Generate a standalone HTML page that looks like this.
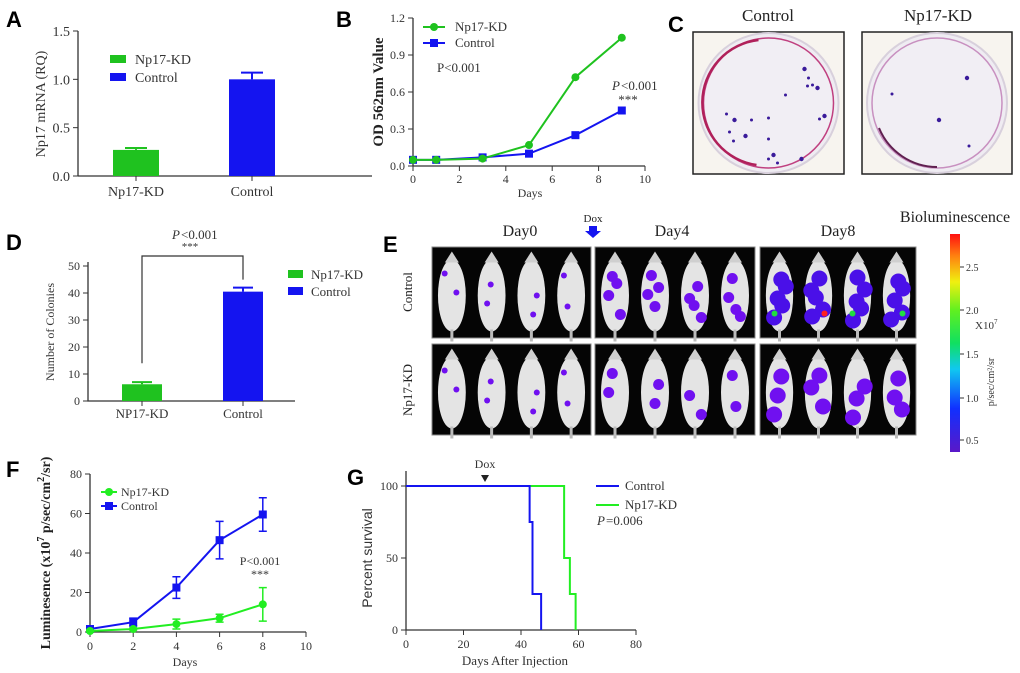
<!DOCTYPE html>
<html><head><meta charset="utf-8"><style>
body{margin:0;background:#fff;}
svg{display:block;font-family:"Liberation Serif",serif;}
.lbl{font-family:"Liberation Sans",sans-serif;font-weight:bold;font-size:22px;}
</style></head><body>
<svg id="fig" width="1020" height="673" viewBox="0 0 1020 673" xmlns="http://www.w3.org/2000/svg">
<text class="lbl" x="6" y="27">A</text>
<text class="lbl" x="336" y="27">B</text>
<text class="lbl" x="668" y="32">C</text>
<text class="lbl" x="6" y="250">D</text>
<text class="lbl" x="383" y="252">E</text>
<text class="lbl" x="6" y="477">F</text>
<text class="lbl" x="347" y="485">G</text>
<g id="gA"></g>
<g id="gB"></g>
<g id="gC"></g>
<g id="gD"></g>
<g id="gE"></g>
<g id="gF"></g>
<g id="gG"></g>
</svg>
<script>
// ---- data ----
const aCategories = ["Np17-KD","Control"];
const aValues = [0.27,1.0];
const aErrors = [0.02,0.07];
const aTicks = ["0.0","0.5","1.0","1.5"];

const bDays = [0,1,3,5,7,9];
const bKD = [0.05,0.05,0.06,0.17,0.72,1.04];
const bCtrl = [0.05,0.05,0.07,0.10,0.25,0.45];
const bYTicks = ["0.0","0.3","0.6","0.9","1.2"];
const bXTicks = ["0","2","4","6","8","10"];

const dCategories = ["NP17-KD","Control"];
const dValues = [6.2,40.5];
const dErrors = [0.8,1.5];
const dTicks = ["0","10","20","30","40","50"];

const fDays = [0,2,4,6,8];
const fCtrl = [1.5,5,22.5,46.5,59.5];
const fCtrlErr = [1.5,2,5.5,9.5,8.5];
const fKD = [0.5,1.5,4,7,14];
const fKDErr = [0.5,0.5,2.5,2,8.5];
const fYTicks = ["0","20","40","60","80"];
const fXTicks = ["0","2","4","6","8","10"];

const gCtrlT = [0,43,44,47];
const gCtrlS = [100,75,25,0];
const gKDT = [0,55,57,59];
const gKDS = [100,50,25,0];
const gYTicks = ["0","50","100"];
const gXTicks = ["0","20","40","60","80"];

const NS="http://www.w3.org/2000/svg";
function el(p,tag,at,txt){const e=document.createElementNS(NS,tag);for(const k in at)e.setAttribute(k,at[k]);if(txt!==undefined)e.textContent=txt;p.appendChild(e);return e;}
function lin(d0,d1,r0,r1){return v=>r0+(v-d0)*(r1-r0)/(d1-d0);}
const GREEN="#1fc21f",BLUE="#1414f0",LG="#22ee22";

// ---- Panel A ----
(function(){
 const g=document.getElementById('gA');
 const y=lin(0,1.5,176,31);
 let e=el(g,'line',{x1:78,y1:31,x2:78,y2:176,stroke:'#333','stroke-width':1.3});
 
 e=el(g,'line',{x1:78,y1:176,x2:372,y2:176,stroke:'#333','stroke-width':1.3});
 
 aTicks.forEach(t=>{const yy=y(+t);el(g,'line',{x1:73,y1:yy,x2:78,y2:yy,stroke:'#333'});
  e=el(g,'text',{x:70,y:yy+5,'text-anchor':'end','font-size':14,fill:'#333'},t);
  });
 const xs=[136,252],cols=[GREEN,BLUE];
 aCategories.forEach((c,i)=>{
  e=el(g,'rect',{x:xs[i]-23,y:y(aValues[i]),width:46,height:176-y(aValues[i]),fill:cols[i]});
  
  const ye=y(aValues[i]+aErrors[i]);
  el(g,'line',{x1:xs[i],y1:y(aValues[i]),x2:xs[i],y2:ye,stroke:cols[i],'stroke-width':2});
  el(g,'line',{x1:xs[i]-11,y1:ye,x2:xs[i]+11,y2:ye,stroke:cols[i],'stroke-width':2});
  el(g,'line',{x1:xs[i],y1:176,x2:xs[i],y2:181,stroke:'#333'});
  e=el(g,'text',{x:xs[i],y:196,'text-anchor':'middle','font-size':14,fill:'#333'},c);
  
 });
 e=el(g,'text',{x:45,y:104,'text-anchor':'middle','font-size':14,fill:'#333',transform:'rotate(-90 45 104)'},'Np17 mRNA (RQ)');
 
 [[GREEN,'Np17-KD',59],[BLUE,'Control',77]].forEach(l=>{
  el(g,'rect',{x:110,y:l[2]-4,width:16,height:8,fill:l[0]});
  e=el(g,'text',{x:135,y:l[2]+5,'font-size':14,fill:'#333'},l[1]);
  });
})();

// ---- Panel B ----
(function(){
 const g=document.getElementById('gB');
 const x=lin(0,10,413,645),y=lin(0,1.2,166,18);
 let e=el(g,'path',{d:'M413 18V166H645',fill:'none',stroke:'#333','stroke-width':1.3});
 
 bYTicks.forEach(t=>{const yy=y(+t);el(g,'line',{x1:408,y1:yy,x2:413,y2:yy,stroke:'#333'});
  e=el(g,'text',{x:405,y:yy+4,'text-anchor':'end','font-size':12,fill:'#333'},t);
  });
 bXTicks.forEach(t=>{const xx=x(+t);el(g,'line',{x1:xx,y1:166,x2:xx,y2:171,stroke:'#333'});
  e=el(g,'text',{x:xx,y:183,'text-anchor':'middle','font-size':12,fill:'#333'},t);
  });
 e=el(g,'text',{x:530,y:197,'text-anchor':'middle','font-size':12,fill:'#333'},'Days');
 
 e=el(g,'text',{x:383,y:92,'text-anchor':'middle','font-size':15,'font-weight':'bold',fill:'#222',transform:'rotate(-90 383 92)'},'OD 562nm  Value');
 
 [[bCtrl,BLUE,'sq'],[bKD,GREEN,'ci']].forEach((s,si)=>{
  e=el(g,'polyline',{points:bDays.map((d,i)=>x(d)+','+y(s[0][i])).join(' '),fill:'none',stroke:s[1],'stroke-width':2});
  
  bDays.forEach((d,i)=>{if(s[2]=='sq')el(g,'rect',{x:x(d)-4,y:y(s[0][i])-4,width:8,height:8,fill:s[1]});
   else el(g,'circle',{cx:x(d),cy:y(s[0][i]),r:4,fill:s[1]});});
 });
 el(g,'line',{x1:423,y1:27,x2:445,y2:27,stroke:GREEN,'stroke-width':2});el(g,'circle',{cx:434,cy:27,r:4,fill:GREEN});
 e=el(g,'text',{x:455,y:31,'font-size':13,fill:'#333'},'Np17-KD');
 el(g,'line',{x1:423,y1:43,x2:445,y2:43,stroke:BLUE,'stroke-width':2});el(g,'rect',{x:430,y:39,width:8,height:8,fill:BLUE});
 e=el(g,'text',{x:455,y:47,'font-size':13,fill:'#333'},'Control');
 el(g,'text',{x:437,y:72,'font-size':13,fill:'#333'},'P<0.001');
 el(g,'text',{x:612,y:90,'font-size':13,fill:'#333','font-style':'italic'},'P');
 el(g,'text',{x:621,y:90,'font-size':13,fill:'#333'},'<0.001');
 el(g,'text',{x:628,y:104,'font-size':13,'text-anchor':'middle',fill:'#333'},'***');
})();

// ---- Panel C ----
(function(){
 const g=document.getElementById('gC');
 const plates=[[693,844,'Control',768],[862,1012,'Np17-KD',938]];
 const ctrlCol=[[36,-34],[44,-18],[39,-17],[49,-15],[-42,11],[17,-8],[-34,17],[-17,17],[0,15],[56,13],[51,16],[0,36],[5,52],[0,56],[9,60],[33,56],[-39,29],[-35,38],[-23,33],[40,-25]];
 const kdCol=[[2,17],[32,43],[-45,-9],[30,-25]];
 plates.forEach((p,pi)=>{
  let e=el(g,'text',{x:p[3],y:21,'text-anchor':'middle','font-size':17,fill:'#222'},p[2]);
  
  e=el(g,'rect',{x:p[0],y:32,width:p[1]-p[0],height:142,fill:'#f7f4ef',stroke:'#222','stroke-width':1.5});
  
  const cx=(p[0]+p[1])/2;
  el(g,'circle',{cx:cx,cy:103,r:70,fill:'#efecf2',stroke:'#d8d0dc','stroke-width':2});
  el(g,'circle',{cx:cx,cy:103,r:65,fill:'#f1eef4',stroke:pi?'#c890c0':'#c04080','stroke-width':1.5});
  if(!pi)el(g,'path',{d:`M${cx-10} ${103-63}A63 63 0 0 0 ${cx-12} ${103+62}`,fill:'none',stroke:'#b0205a','stroke-width':2.5});
  else el(g,'path',{d:`M${cx-58} ${103+25}A63 63 0 0 0 ${cx} ${103+64}`,fill:'none',stroke:'#602050','stroke-width':2});
  (pi?kdCol:ctrlCol).forEach((q,i)=>el(g,'circle',{cx:cx+q[0],cy:103+q[1],r:i%3==0?2.2:1.5,fill:'#3a1a9a'}));
 });
})();

// ---- Panel D ----
(function(){
 const g=document.getElementById('gD');
 const y=lin(0,50,401,266);
 let e=el(g,'path',{d:'M88 262V401H295',fill:'none',stroke:'#333','stroke-width':1.3});
 
 dTicks.forEach(t=>{const yy=y(+t);el(g,'line',{x1:83,y1:yy,x2:88,y2:yy,stroke:'#333'});
  e=el(g,'text',{x:80,y:yy+4,'text-anchor':'end','font-size':12,fill:'#333'},t);
  });
 const xs=[142,243],cols=[GREEN,BLUE];
 dCategories.forEach((c,i)=>{
  e=el(g,'rect',{x:xs[i]-20,y:y(dValues[i]),width:40,height:401-y(dValues[i]),fill:cols[i]});
  
  const ye=y(dValues[i]+dErrors[i]);
  el(g,'line',{x1:xs[i],y1:y(dValues[i]),x2:xs[i],y2:ye,stroke:cols[i],'stroke-width':2});
  el(g,'line',{x1:xs[i]-10,y1:ye,x2:xs[i]+10,y2:ye,stroke:cols[i],'stroke-width':2});
  el(g,'line',{x1:xs[i],y1:401,x2:xs[i],y2:406,stroke:'#333'});
  e=el(g,'text',{x:xs[i],y:418,'text-anchor':'middle','font-size':13,fill:'#333'},c);
  
 });
 el(g,'path',{d:`M142 ${y(dValues[0])-21}V256H243V${y(dValues[1])-12}`,fill:'none',stroke:'#333','stroke-width':1.2});
 el(g,'text',{x:172,y:239,'font-size':13,fill:'#333','font-style':'italic'},'P');
 el(g,'text',{x:181,y:239,'font-size':13,fill:'#333'},'<0.001');
 el(g,'text',{x:190,y:250,'text-anchor':'middle','font-size':11,fill:'#333'},'***');
 e=el(g,'text',{x:54,y:332,'text-anchor':'middle','font-size':12,fill:'#333',transform:'rotate(-90 54 332)'},'Number of Colonies');
 
 [[GREEN,'Np17-KD',274],[BLUE,'Control',291]].forEach(l=>{
  el(g,'rect',{x:288,y:l[2]-4,width:15,height:8,fill:l[0]});
  e=el(g,'text',{x:311,y:l[2]+5,'font-size':13,fill:'#333'},l[1]);
  });
})();

// ---- Panel E ----
(function(){
 const g=document.getElementById('gE');
 const defs=el(g,'defs',{});
 const lg=el(defs,'linearGradient',{id:'cb',x1:0,y1:1,x2:0,y2:0});
 [['0','#5a18c8'],['0.2','#1030ff'],['0.38','#10c8f0'],['0.5','#10e060'],['0.65','#60f020'],['0.78','#f0f010'],['0.9','#ff8010'],['1','#ff1010']].forEach(s=>el(lg,'stop',{offset:s[0],'stop-color':s[1]}));
 [['Day0',520],['Day4',672],['Day8',838]].forEach(d=>{let e=el(g,'text',{x:d[1],y:236,'text-anchor':'middle','font-size':16,fill:'#222'},d[0]);});
 el(g,'text',{x:593,y:222,'text-anchor':'middle','font-size':11,fill:'#222'},'Dox');
 let e=el(g,'path',{d:'M589 226h8v5h4l-8 7-8-7h4z',fill:BLUE});
 e=el(g,'text',{x:955,y:222,'text-anchor':'middle','font-size':16,fill:'#222'},'Bioluminescence');
 e=el(g,'text',{x:412,y:292,'text-anchor':'middle','font-size':13,fill:'#222',transform:'rotate(-90 412 292)'},'Control');
 e=el(g,'text',{x:412,y:390,'text-anchor':'middle','font-size':13,fill:'#222',transform:'rotate(-90 412 390)'},'Np17-KD');
 const cols=[[432,591],[595,755],[760,916]],rows=[[247,338],[344,435]];
 const blobs=[[4,2],[10,4],[14,6]];
 rows.forEach((r,ri)=>cols.forEach((c,ci)=>{
  e=el(g,'rect',{x:c[0],y:r[0],width:c[1]-c[0],height:r[1]-r[0],fill:'#050505',stroke:'#888'});
  
  const w=(c[1]-c[0])/4;
  for(let m=0;m<4;m++){
   const cx=c[0]+w*m+w/2,cy=(r[0]+r[1])/2+3;
   el(g,'ellipse',{cx:cx,cy:cy,rx:w*0.35,ry:36,fill:'#e4e4e4'});
   el(g,'path',{d:`M${cx-7} ${cy-33}L${cx} ${cy-44}L${cx+7} ${cy-33}Z`,fill:'#cfcfcf'});
   el(g,'rect',{x:cx-1.5,y:cy+34,width:3,height:12,fill:'#bbb'});
   const n=ri?blobs[ci][1]:blobs[ci][0];
   for(let b=0;b<Math.ceil(n/4)+1;b++){
    const ox=((m*7+b*13+ci*5)%17-8)*0.9,oy=((m*11+b*19+ci*3)%50-22);
    el(g,'ellipse',{cx:cx+ox,cy:cy+oy,rx:3+ci*2.5,ry:3+ci*2.5,fill:ci==2&&!ri?'#4a10e8':'#7010f0'});
   }
   if(ci==2&&!ri)el(g,'circle',{cx:cx+(m%2?6:-5),cy:cy+18,r:3,fill:m==1?'#ff2020':'#20e040'});
  }
 }));
 e=el(g,'rect',{x:950,y:234,width:10,height:218,fill:'url(#cb)'});
 [['2.5',267],['2.0',310],['1.5',354],['1.0',398],['0.5',440]].forEach(t=>{el(g,'line',{x1:960,y1:t[1],x2:964,y2:t[1],stroke:'#333'});el(g,'text',{x:966,y:t[1]+4,'font-size':10,fill:'#333'},t[0]);});
 el(g,'text',{x:975,y:329,'font-size':11,fill:'#333'},'X10');el(g,'text',{x:994,y:324,'font-size':7,fill:'#333'},'7');
 el(g,'text',{x:994,y:382,'text-anchor':'middle','font-size':10,fill:'#333',transform:'rotate(-90 994 382)'},'p/sec/cm²/sr');
})();

// ---- Panel F ----
(function(){
 const g=document.getElementById('gF');
 const x=lin(0,10,90,306),y=lin(0,80,632,474);
 let e=el(g,'path',{d:'M90 474V632H306',fill:'none',stroke:'#333','stroke-width':1.3});
 
 fYTicks.forEach(t=>{const yy=y(+t);el(g,'line',{x1:85,y1:yy,x2:90,y2:yy,stroke:'#333'});
  e=el(g,'text',{x:82,y:yy+4,'text-anchor':'end','font-size':12,fill:'#333'},t);});
 fXTicks.forEach(t=>{const xx=x(+t);el(g,'line',{x1:xx,y1:632,x2:xx,y2:637,stroke:'#333'});
  e=el(g,'text',{x:xx,y:650,'text-anchor':'middle','font-size':12,fill:'#333'},t);});
 el(g,'text',{x:185,y:666,'text-anchor':'middle','font-size':12,fill:'#333'},'Days');
 e=el(g,'text',{x:50,y:553,'text-anchor':'middle','font-size':14,'font-weight':'bold',fill:'#222',transform:'rotate(-90 50 553)'});
 
 e.innerHTML='Luminesence (x10<tspan dy="-6" font-size="10">7</tspan><tspan dy="6"> p/sec/cm</tspan><tspan dy="-6" font-size="10">2</tspan><tspan dy="6">/sr)</tspan>';
 [[fCtrl,fCtrlErr,BLUE,'sq'],[fKD,fKDErr,LG,'ci']].forEach((s,si)=>{
  e=el(g,'polyline',{points:fDays.map((d,i)=>x(d)+','+y(s[0][i])).join(' '),fill:'none',stroke:s[2],'stroke-width':2});
  
  fDays.forEach((d,i)=>{const xx=x(d),v=s[0][i],er=s[1][i];
   el(g,'path',{d:`M${xx} ${y(v-er)}V${y(v+er)}M${xx-4} ${y(v-er)}h8M${xx-4} ${y(v+er)}h8`,stroke:s[2],'stroke-width':1.5,fill:'none'});
   if(s[3]=='sq')el(g,'rect',{x:xx-4,y:y(v)-4,width:8,height:8,fill:s[2]});else el(g,'circle',{cx:xx,cy:y(v),r:4,fill:s[2]});});
 });
 el(g,'line',{x1:101,y1:492,x2:117,y2:492,stroke:LG,'stroke-width':2});el(g,'circle',{cx:109,cy:492,r:4,fill:LG});
 e=el(g,'text',{x:121,y:496,'font-size':12,fill:'#333'},'Np17-KD');
 el(g,'line',{x1:101,y1:506,x2:117,y2:506,stroke:BLUE,'stroke-width':2});el(g,'rect',{x:105,y:502,width:8,height:8,fill:BLUE});
 e=el(g,'text',{x:121,y:510,'font-size':12,fill:'#333'},'Control');
 el(g,'text',{x:260,y:565,'text-anchor':'middle','font-size':12,fill:'#333'},'P<0.001');
 el(g,'text',{x:260,y:578,'text-anchor':'middle','font-size':12,fill:'#333'},'***');
})();

// ---- Panel G ----
(function(){
 const g=document.getElementById('gG');
 const x=lin(0,80,406,636),y=lin(0,100,630,486);
 let e=el(g,'path',{d:'M406 471V630H636',fill:'none',stroke:'#333','stroke-width':1.3});
 
 gYTicks.forEach(t=>{const yy=y(+t);el(g,'line',{x1:401,y1:yy,x2:406,y2:yy,stroke:'#333'});
  e=el(g,'text',{x:398,y:yy+4,'text-anchor':'end','font-size':12,fill:'#333'},t);});
 gXTicks.forEach(t=>{const xx=x(+t);el(g,'line',{x1:xx,y1:630,x2:xx,y2:635,stroke:'#333'});
  e=el(g,'text',{x:xx,y:648,'text-anchor':'middle','font-size':12,fill:'#333'},t);});
 el(g,'text',{x:515,y:665,'text-anchor':'middle','font-size':13,fill:'#333'},'Days After Injection');
 e=el(g,'text',{x:372,y:558,'text-anchor':'middle','font-size':14,fill:'#333','font-family':'Liberation Sans, sans-serif',transform:'rotate(-90 372 558)'},'Percent survival');
 
 function step(T,S){let d=`M${x(T[0])} ${y(S[0])}`;for(let i=1;i<T.length;i++){d+=`H${x(T[i])}V${y(S[i])}`;}return d;}
 e=el(g,'path',{d:step(gKDT,gKDS),fill:'none',stroke:LG,'stroke-width':2});
 e=el(g,'path',{d:step(gCtrlT,gCtrlS),fill:'none',stroke:BLUE,'stroke-width':2});
 el(g,'text',{x:485,y:468,'text-anchor':'middle','font-size':12,fill:'#333'},'Dox');
 el(g,'path',{d:'M481 475h8l-4 7z',fill:'#222'});
 el(g,'line',{x1:596,y1:486,x2:619,y2:486,stroke:BLUE,'stroke-width':2});
 e=el(g,'text',{x:625,y:490,'font-size':13,fill:'#333'},'Control');
 el(g,'line',{x1:596,y1:505,x2:619,y2:505,stroke:LG,'stroke-width':2});
 e=el(g,'text',{x:625,y:509,'font-size':13,fill:'#333'},'Np17-KD');
 el(g,'text',{x:597,y:525,'font-size':13,fill:'#333','font-style':'italic'},'P');
 el(g,'text',{x:606,y:525,'font-size':13,fill:'#333'},'=0.006');
})();
</script>
</body></html>
